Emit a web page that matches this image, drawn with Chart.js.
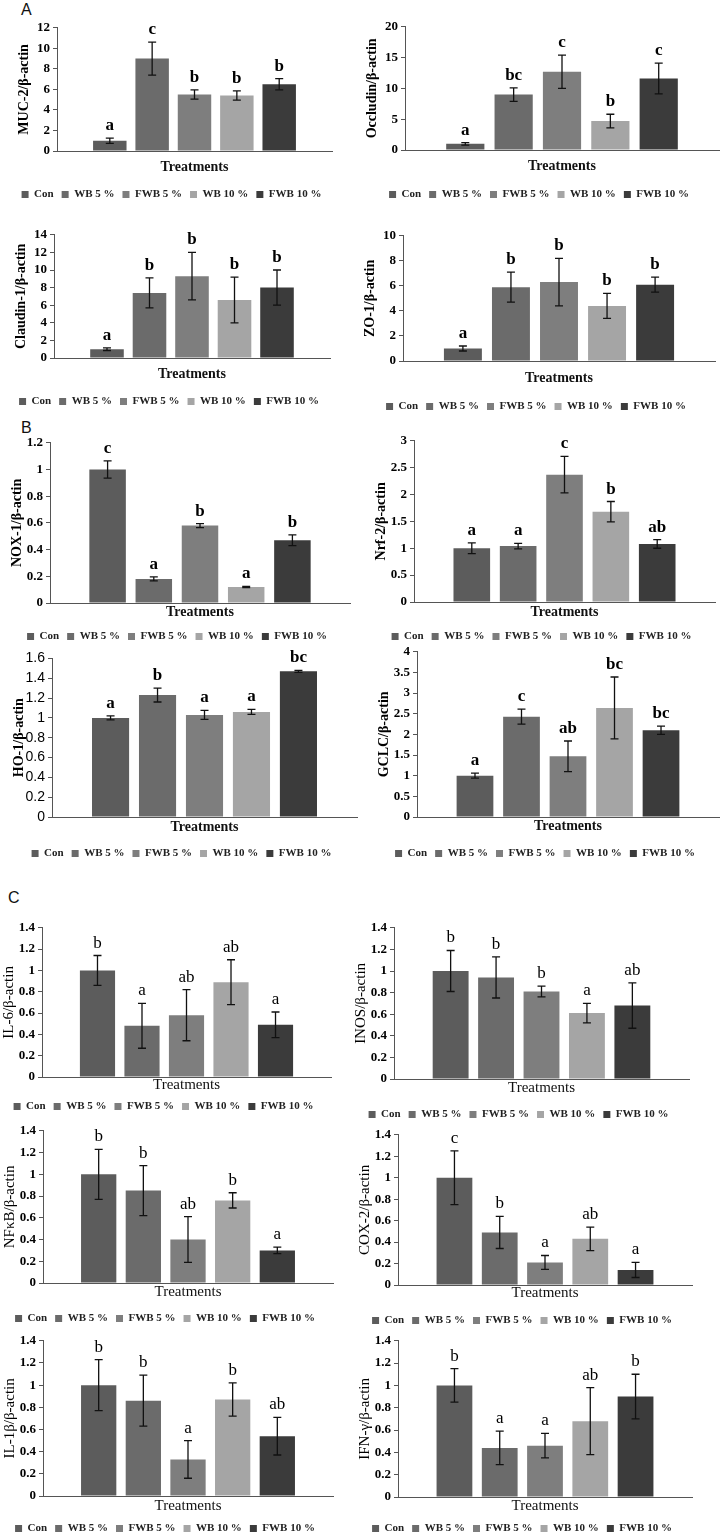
<!DOCTYPE html>
<html>
<head>
<meta charset="utf-8">
<script src="https://cdn.jsdelivr.net/npm/chart.js@4.4.1/dist/chart.umd.min.js"></script>
<style>
  body { margin: 0; background: #fff; }
  #fig { position: relative; width: 724px; height: 1534px; overflow: hidden; background: #fff; }
  .panel { position: absolute; }
  .tag { position: absolute; font: 16px 'Liberation Sans', Arial, sans-serif; line-height: 16px; color: #111; }
</style>
</head>
<body>
<div id="fig">
  <div class="tag" style="left:21px;top:2px">A</div>
  <div class="tag" style="left:21px;top:420px">B</div>
  <div class="tag" style="left:8px;top:890px">C</div>
</div>

<script>
/* ================= data ================= */
const treatments = ['Con', 'WB 5 %', 'FWB 5 %', 'WB 10 %', 'FWB 10 %'];
const barColors  = ['#5c5c5c', '#6b6b6b', '#7e7e7e', '#a5a5a5', '#3b3b3b'];

// A : barrier / tight junction genes
const muc2Mean = [1.0, 9.0, 5.5, 5.4, 6.5];
const muc2Err  = [0.25, 1.6, 0.45, 0.45, 0.55];
const muc2Sig  = ['a', 'c', 'b', 'b', 'b'];
const muc2Ticks = [0, 2, 4, 6, 8, 10, 12];

const occMean = [1.0, 9.0, 12.7, 4.7, 11.6];
const occErr  = [0.2, 1.1, 2.7, 1.1, 2.5];
const occSig  = ['a', 'bc', 'c', 'b', 'c'];
const occTicks = [0, 5, 10, 15, 20];

const cldMean = [1.0, 7.4, 9.3, 6.6, 8.0];
const cldErr  = [0.15, 1.7, 2.7, 2.6, 2.0];
const cldSig  = ['a', 'b', 'b', 'b', 'b'];
const cldTicks = [0, 2, 4, 6, 8, 10, 12, 14];

const zo1Mean = [1.0, 5.9, 6.3, 4.4, 6.1];
const zo1Err  = [0.2, 1.2, 1.9, 1.0, 0.6];
const zo1Sig  = ['a', 'b', 'b', 'b', 'b'];
const zo1Ticks = [0, 2, 4, 6, 8, 10];

// B : oxidative stress genes
const noxMean = [1.0, 0.18, 0.58, 0.12, 0.47];
const noxErr  = [0.065, 0.015, 0.015, 0.005, 0.04];
const noxSig  = ['c', 'a', 'b', 'a', 'b'];
const noxTicks = [0, 0.2, 0.4, 0.6, 0.8, 1, 1.2];

const nrfMean = [1.0, 1.04, 2.37, 1.68, 1.08];
const nrfErr  = [0.1, 0.05, 0.34, 0.19, 0.08];
const nrfSig  = ['a', 'a', 'c', 'b', 'ab'];
const nrfTicks = [0, 0.5, 1, 1.5, 2, 2.5, 3];

const ho1Mean = [1.0, 1.23, 1.03, 1.06, 1.47];
const ho1Err  = [0.02, 0.07, 0.045, 0.025, 0.01];
const ho1Sig  = ['a', 'b', 'a', 'a', 'bc'];
const ho1Ticks = [0, 0.2, 0.4, 0.6, 0.8, 1, 1.2, 1.4, 1.6];

const gclcMean = [1.0, 2.43, 1.47, 2.64, 2.1];
const gclcErr  = [0.06, 0.18, 0.37, 0.75, 0.1];
const gclcSig  = ['a', 'c', 'ab', 'bc', 'bc'];
const gclcTicks = [0, 0.5, 1, 1.5, 2, 2.5, 3, 3.5, 4];

// C : inflammation genes
const infTicks = [0, 0.2, 0.4, 0.6, 0.8, 1, 1.2, 1.4];

const il6Mean = [1.0, 0.48, 0.58, 0.89, 0.49];
const il6Err  = [0.14, 0.21, 0.24, 0.21, 0.12];
const il6Sig  = ['b', 'a', 'ab', 'ab', 'a'];

const inosMean = [1.0, 0.94, 0.81, 0.61, 0.68];
const inosErr  = [0.19, 0.19, 0.05, 0.09, 0.21];
const inosSig  = ['b', 'b', 'b', 'a', 'ab'];

const nfkbMean = [1.0, 0.85, 0.4, 0.76, 0.3];
const nfkbErr  = [0.23, 0.23, 0.21, 0.07, 0.03];
const nfkbSig  = ['b', 'b', 'ab', 'b', 'a'];

const cox2Mean = [1.0, 0.49, 0.21, 0.43, 0.14];
const cox2Err  = [0.25, 0.15, 0.065, 0.11, 0.07];
const cox2Sig  = ['c', 'b', 'a', 'ab', 'a'];

const il1bMean = [1.0, 0.86, 0.33, 0.87, 0.54];
const il1bErr  = [0.23, 0.23, 0.17, 0.15, 0.17];
const il1bSig  = ['b', 'b', 'a', 'b', 'ab'];

const ifngMean = [1.0, 0.44, 0.46, 0.68, 0.9];
const ifngErr  = [0.15, 0.15, 0.11, 0.3, 0.2];
const ifngSig  = ['b', 'a', 'a', 'ab', 'b'];

/* ================= layout (page pixels) =================
   ax = y axis x, ty = top of y axis, zy = zero line, rx = end of x axis,
   tT = "Treatments" centre, lY = legend centre */
const panels = [
  { sec: 'A', label: 'MUC-2/β-actin',     mean: muc2Mean, err: muc2Err, sig: muc2Sig, ticks: muc2Ticks, ax: 57,  ty: 27,   zy: 151,  rx: 332, tT: 167,  lY: 193 },
  { sec: 'A', label: 'Occludin/β-actin',  mean: occMean,  err: occErr,  sig: occSig,  ticks: occTicks,  ax: 405, ty: 26,   zy: 150,  rx: 719, tT: 166,  lY: 193 },
  { sec: 'A', label: 'Claudin-1/β-actin', mean: cldMean,  err: cldErr,  sig: cldSig,  ticks: cldTicks,  ax: 54,  ty: 234,  zy: 358,  rx: 330, tT: 374,  lY: 400 },
  { sec: 'A', label: 'ZO-1/β-actin',      mean: zo1Mean,  err: zo1Err,  sig: zo1Sig,  ticks: zo1Ticks,  ax: 403, ty: 235,  zy: 361,  rx: 715, tT: 378,  lY: 405 },
  { sec: 'B', label: 'NOX-1/β-actin',     mean: noxMean,  err: noxErr,  sig: noxSig,  ticks: noxTicks,  ax: 50,  ty: 442,  zy: 603,  rx: 350, tT: 612,  lY: 635 },
  { sec: 'B', label: 'Nrf-2/β-actin',     mean: nrfMean,  err: nrfErr,  sig: nrfSig,  ticks: nrfTicks,  ax: 414, ty: 440,  zy: 602,  rx: 715, tT: 612,  lY: 635 },
  { sec: 'B', label: 'HO-1/β-actin',      mean: ho1Mean,  err: ho1Err,  sig: ho1Sig,  ticks: ho1Ticks,  ax: 52,  ty: 657,  zy: 817,  rx: 357, tT: 827,  lY: 852, sansTicks: true },
  { sec: 'B', label: 'GCLC/β-actin',      mean: gclcMean, err: gclcErr, sig: gclcSig, ticks: gclcTicks, ax: 417, ty: 651,  zy: 817,  rx: 719, tT: 826,  lY: 852 },
  { sec: 'C', label: 'IL-6/β-actin',      mean: il6Mean,  err: il6Err,  sig: il6Sig,  ticks: infTicks,  ax: 42,  ty: 927,  zy: 1077, rx: 331, tT: 1086, lY: 1105 },
  { sec: 'C', label: 'INOS/β-actin',      mean: inosMean, err: inosErr, sig: inosSig, ticks: infTicks,  ax: 394, ty: 927,  zy: 1079, rx: 689, tT: 1088, lY: 1113 },
  { sec: 'C', label: 'NFκB/β-actin',      mean: nfkbMean, err: nfkbErr, sig: nfkbSig, ticks: infTicks,  ax: 43,  ty: 1130, zy: 1283, rx: 333, tT: 1292, lY: 1317 },
  { sec: 'C', label: 'COX-2/β-actin',     mean: cox2Mean, err: cox2Err, sig: cox2Sig, ticks: infTicks,  ax: 398, ty: 1134, zy: 1285, rx: 692, tT: 1293, lY: 1319 },
  { sec: 'C', label: 'IL-1β/β-actin',     mean: il1bMean, err: il1bErr, sig: il1bSig, ticks: infTicks,  ax: 43,  ty: 1340, zy: 1496, rx: 333, tT: 1506, lY: 1527 },
  { sec: 'C', label: 'IFN-γ/β-actin',     mean: ifngMean, err: ifngErr, sig: ifngSig, ticks: infTicks,  ax: 398, ty: 1340, zy: 1497, rx: 692, tT: 1506, lY: 1527 }
];

const SERIF = "'Liberation Serif', 'Times New Roman', serif";
const SANS  = "'Liberation Sans', Arial, sans-serif";
const YW = 46;         // y axis box width
const PAD_TOP = 10;
const PAD_RIGHT = 6;
const LEG_PAD = 8, LEG_FONT = 11;
const LEG_H = LEG_FONT + LEG_PAD + 10;   // height chart.js gives a one-row legend
const LEG_TEXT = 17;                     // legend text centre, measured up from canvas bottom

// ================= error bars + letters =================
function errorBars(letterFont) {
  return {
    id: 'errorBars',
    afterDatasetsDraw(chart) {
      const { ctx, scales: { y } } = chart;
      ctx.save();
      chart.data.datasets.forEach((ds, i) => {
        const bar = chart.getDatasetMeta(i).data[0];
        const v = ds.data[0], e = ds.errors[0];
        const yTop = y.getPixelForValue(v + e);
        const yBot = y.getPixelForValue(Math.max(v - e, 0));
        ctx.strokeStyle = '#111';
        ctx.lineWidth = 1.3;
        ctx.beginPath();
        ctx.moveTo(bar.x, yTop); ctx.lineTo(bar.x, yBot);
        ctx.moveTo(bar.x - 4, yTop); ctx.lineTo(bar.x + 4, yTop);
        ctx.moveTo(bar.x - 4, yBot); ctx.lineTo(bar.x + 4, yBot);
        ctx.stroke();
        ctx.fillStyle = '#000';
        ctx.font = letterFont;
        ctx.textAlign = 'center';
        ctx.textBaseline = 'alphabetic';
        ctx.fillText(ds.sig, bar.x, yTop - 8);
      });
      ctx.restore();
    }
  };
}

function makePanel(p) {
  const left = p.ax - YW, top = p.ty - PAD_TOP;
  const w = p.rx + PAD_RIGHT - left;
  const h = Math.round(p.lY + LEG_TEXT - top);
  const legTop = top + h - LEG_H;
  const xH = legTop - p.zy;
  const titlePad = Math.max(0, legTop - p.tT - 7.5);
  const isC = p.sec === 'C';

  const box = document.createElement('div');
  box.className = 'panel';
  box.style.cssText = `left:${left}px;top:${top}px;width:${w}px;height:${h}px`;
  const cv = document.createElement('canvas');
  cv.width = w; cv.height = h;
  cv.style.width = w + 'px'; cv.style.height = h + 'px';
  box.appendChild(cv);
  document.getElementById('fig').appendChild(box);

  const datasets = treatments.map((t, i) => ({
    label: t,
    data: [p.mean[i]],
    errors: [p.err[i]],
    sig: p.sig[i],
    backgroundColor: barColors[i],
    borderWidth: 0,
    categoryPercentage: 0.77,
    barPercentage: 0.79
  }));

  new Chart(cv, {
    type: 'bar',
    data: { labels: [''], datasets },
    plugins: [errorBars(`${isC ? '' : 'bold '}17px ${SERIF}`)],
    options: {
      responsive: false,
      animation: false,
      events: [],
      layout: { padding: { top: PAD_TOP, right: PAD_RIGHT, left: 0, bottom: 0 } },
      plugins: {
        tooltip: { enabled: false },
        legend: {
          position: 'bottom',
          labels: {
            boxWidth: 7, boxHeight: 7, padding: LEG_PAD, color: '#222',
            font: { family: SERIF, size: LEG_FONT, weight: 'bold' }
          }
        }
      },
      scales: {
        x: {
          ticks: { display: false },
          grid: { display: false, drawTicks: false },
          border: { display: true, color: '#555', width: 1 },
          title: {
            display: true, text: 'Treatments', color: '#111',
            font: { family: SERIF, size: isC ? 15 : 14, weight: isC ? 'normal' : 'bold', lineHeight: 1 },
            padding: { top: 0, bottom: titlePad }
          },
          afterFit(s) { s.height = xH; }
        },
        y: {
          min: p.ticks[0],
          max: p.ticks[p.ticks.length - 1],
          ticks: {
            stepSize: p.ticks[1] - p.ticks[0],
            autoSkip: false,
            color: '#000', padding: 3,
            callback: v => String(Number(v.toFixed(2))),
            font: p.sansTicks ? { family: SANS, size: 14 } : { family: SERIF, size: 13, weight: 'bold' }
          },
          grid: { display: true, drawOnChartArea: false, drawTicks: true, tickLength: 4, color: '#555' },
          border: { display: true, color: '#555', width: 1 },
          title: {
            display: true, text: p.label, color: '#000',
            font: { family: SERIF, size: isC ? 15 : 14, weight: isC ? 'normal' : 'bold', lineHeight: 1 },
            padding: { top: 6, bottom: 0 }
          },
          afterFit(s) { s.width = YW; }
        }
      }
    }
  });
}

panels.forEach(makePanel);
</script>
</body>
</html>
